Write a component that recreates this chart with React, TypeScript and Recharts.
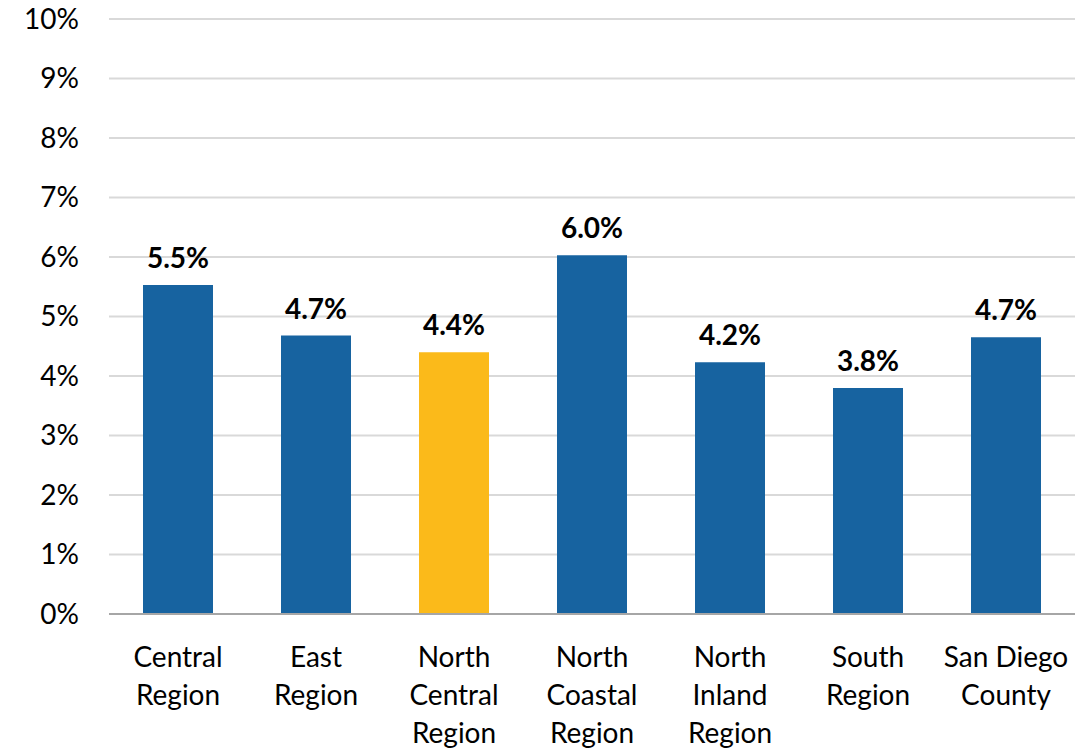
import React from 'react';
import { BarChart, Bar, XAxis, YAxis, CartesianGrid, LabelList, Cell } from 'recharts';

const categories = ['Central\nRegion', 'East\nRegion', 'North\nCentral\nRegion', 'North\nCoastal\nRegion', 'North\nInland\nRegion', 'South\nRegion', 'San Diego\nCounty'];
const values = [5.53, 4.68, 4.4, 6.03, 4.23, 3.8, 4.65];
const highlighted = ['North\nCentral\nRegion'];
const yTicks = [0, 1, 2, 3, 4, 5, 6, 7, 8, 9, 10];

const data = categories.map((c, i) => ({ name: c, value: values[i] }));
const FONT = 'Lato, "Open Sans", sans-serif';

const XTick = (props: any) => {
  const { x, y, payload } = props;
  const lines = String(payload.value).split('\n');
  return (
    <g transform={`translate(${x},${y})`}>
      {lines.map((l: string, i: number) => (
        <text key={i} x={0} y={35 + i * 38} dy="0.35em" textAnchor="middle" fill="#000" fontSize={28} fontFamily={FONT}>
          {l}
        </text>
      ))}
    </g>
  );
};

export default function App() {
  return (
    <div style={{ position: 'absolute', left: 0, top: 0, width: 1083, height: 752, background: '#fff' }}>
      <BarChart width={1083} height={752} data={data} margin={{ top: 19, right: 8, bottom: 0, left: 0 }}>
        <CartesianGrid vertical={false} stroke="#d9d9d9" strokeWidth={2} />
        <XAxis dataKey="name" height={138} tick={<XTick />} tickLine={false} axisLine={{ stroke: '#a6a6a6', strokeWidth: 2 }} interval={0} />
        <YAxis width={109} domain={[0, 10]} ticks={yTicks} tickFormatter={(v: number) => `${v}%`} tickLine={false} axisLine={false} tickSize={0} tickMargin={30} tick={{ fill: '#000', fontSize: 28, fontFamily: FONT }} />
        <Bar dataKey="value" barSize={70} isAnimationActive={false}>
          {data.map((d, i) => (
            <Cell key={i} fill={highlighted.includes(d.name) ? '#FBBA1A' : '#1763A0'} />
          ))}
          <LabelList dataKey="value" position="top" offset={17} formatter={(v: any) => `${Number(v).toFixed(1)}%`} fill="#000" fontSize={28} fontWeight={700} fontFamily={FONT} />
        </Bar>
      </BarChart>
    </div>
  );
}
